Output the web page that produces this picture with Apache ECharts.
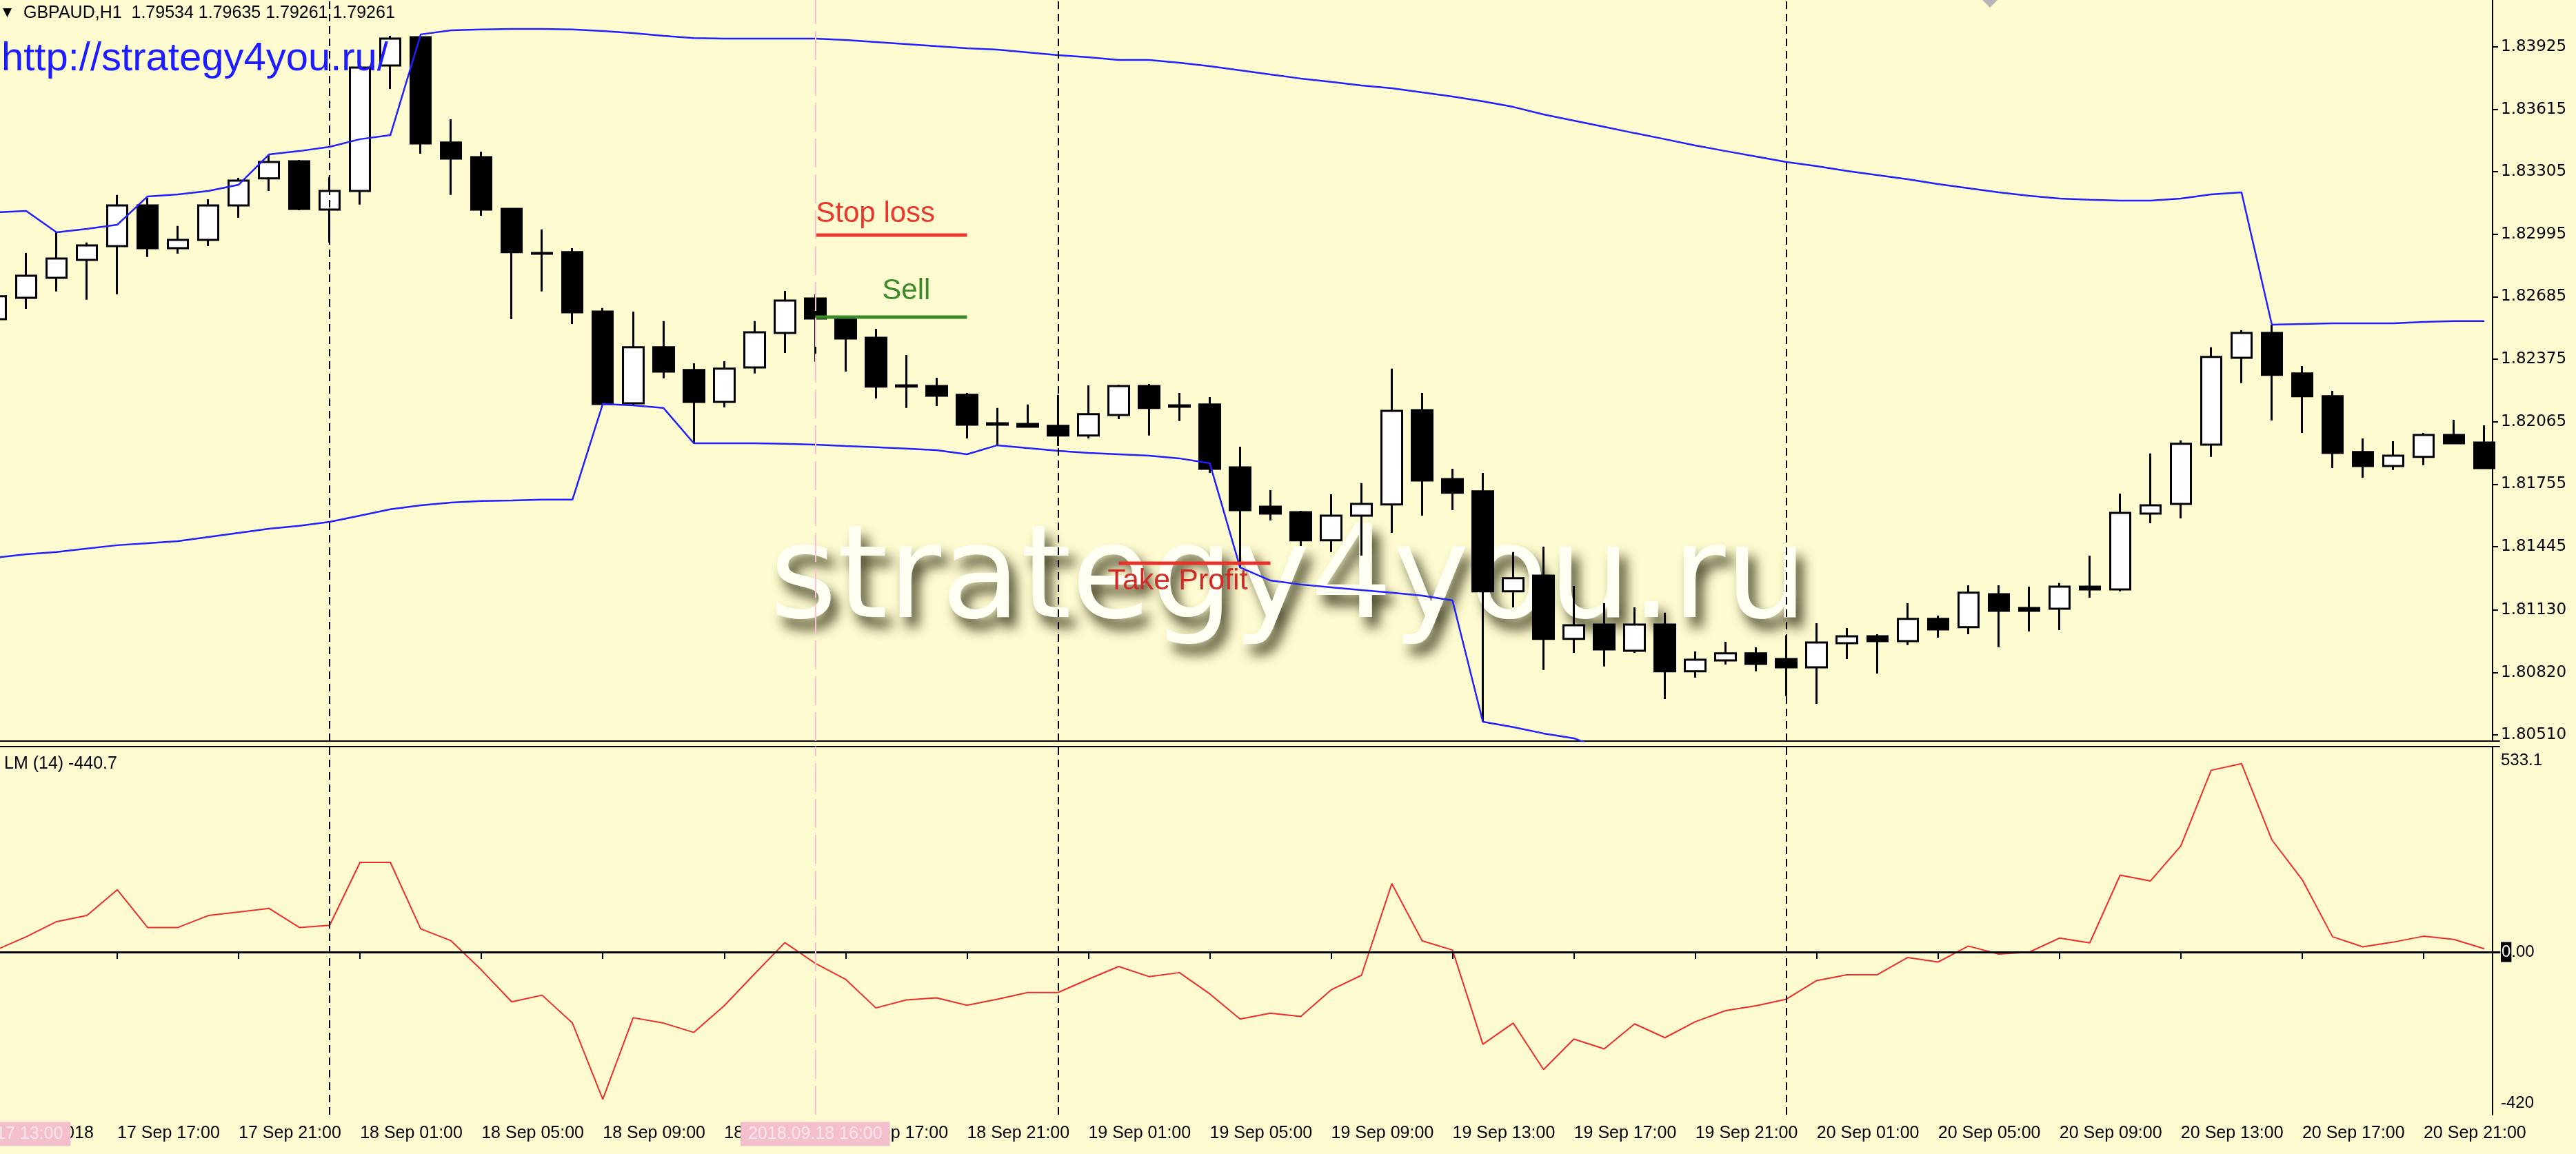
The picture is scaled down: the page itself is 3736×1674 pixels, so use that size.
<!DOCTYPE html>
<html><head><meta charset="utf-8">
<script src="https://cdn.jsdelivr.net/npm/echarts@6/dist/echarts.min.js"></script>
<style>html,body{margin:0;padding:0;background:#FFFBD0;}#c{width:3736px;height:1674px;}</style>
</head><body><div id="c"></div>
<script>
const categories = [
'17 Sep 13:00','17 Sep 14:00','17 Sep 15:00','17 Sep 16:00','17 Sep 17:00','17 Sep 18:00','17 Sep 19:00','17 Sep 20:00','17 Sep 21:00','17 Sep 22:00','17 Sep 23:00',
'18 Sep 00:00','18 Sep 01:00','18 Sep 02:00','18 Sep 03:00','18 Sep 04:00','18 Sep 05:00','18 Sep 06:00','18 Sep 07:00','18 Sep 08:00','18 Sep 09:00','18 Sep 10:00','18 Sep 11:00','18 Sep 12:00','18 Sep 13:00','18 Sep 14:00','18 Sep 15:00','18 Sep 16:00','18 Sep 17:00','18 Sep 18:00','18 Sep 19:00','18 Sep 20:00','18 Sep 21:00','18 Sep 22:00','18 Sep 23:00',
'19 Sep 00:00','19 Sep 01:00','19 Sep 02:00','19 Sep 03:00','19 Sep 04:00','19 Sep 05:00','19 Sep 06:00','19 Sep 07:00','19 Sep 08:00','19 Sep 09:00','19 Sep 10:00','19 Sep 11:00','19 Sep 12:00','19 Sep 13:00','19 Sep 14:00','19 Sep 15:00','19 Sep 16:00','19 Sep 17:00','19 Sep 18:00','19 Sep 19:00','19 Sep 20:00','19 Sep 21:00','19 Sep 22:00','19 Sep 23:00',
'20 Sep 00:00','20 Sep 01:00','20 Sep 02:00','20 Sep 03:00','20 Sep 04:00','20 Sep 05:00','20 Sep 06:00','20 Sep 07:00','20 Sep 08:00','20 Sep 09:00','20 Sep 10:00','20 Sep 11:00','20 Sep 12:00','20 Sep 13:00','20 Sep 14:00','20 Sep 15:00','20 Sep 16:00','20 Sep 17:00','20 Sep 18:00','20 Sep 19:00','20 Sep 20:00','20 Sep 21:00','20 Sep 22:00','20 Sep 23:00'];

const opens = [1.82574,1.82680,1.82779,1.82868,1.82936,1.83138,1.82926,1.82967,1.83138,1.83272,1.83357,
1.83118,1.83210,1.83833,1.83973,1.83450,1.83378,1.83121,1.82902,1.82906,1.82611,1.82156,1.82434,1.82321,1.82163,1.82334,1.82505,1.82676,1.82577,1.82481,1.82245,1.82242,1.82198,1.82057,1.82054,
1.82044,1.81996,1.82098,1.82242,1.82146,1.82150,1.81838,1.81643,1.81616,1.81476,1.81599,1.81654,1.82122,1.81780,1.81719,1.81223,1.81301,1.80987,1.81058,1.80928,1.81058,1.80826,1.80880,1.80915,
1.80887,1.80846,1.80966,1.81000,1.80976,1.81086,1.81045,1.81209,1.81140,1.81137,1.81246,1.81233,1.81609,1.81657,1.81951,1.82382,1.82505,1.82304,1.82191,1.81914,1.81845,1.81890,1.81999,1.81961];
const closes = [1.82687,1.82789,1.82875,1.82940,1.83138,1.82926,1.82967,1.83138,1.83261,1.83354,1.83121,
1.83210,1.83822,1.83966,1.83446,1.83371,1.83118,1.82906,1.82899,1.82608,1.82153,1.82434,1.82314,1.82163,1.82328,1.82509,1.82666,1.82577,1.82478,1.82239,1.82239,1.82194,1.82050,1.82050,1.82040,
1.81996,1.82102,1.82242,1.82133,1.82139,1.81831,1.81626,1.81609,1.81476,1.81599,1.81657,1.82119,1.81773,1.81712,1.81223,1.81288,1.80987,1.81055,1.80935,1.81058,1.80826,1.80884,1.80915,1.80863,
1.80846,1.80969,1.81000,1.80976,1.81086,1.81034,1.81216,1.81127,1.81127,1.81246,1.81233,1.81612,1.81650,1.81955,1.82386,1.82505,1.82297,1.82191,1.81910,1.81845,1.81896,1.81999,1.81958,1.81835];
const lows = [1.82550,1.82625,1.82711,1.82670,1.82697,1.82882,1.82899,1.82936,1.83077,1.83210,1.83114,
1.82954,1.83142,1.83716,1.83395,1.83190,1.83087,1.82574,1.82711,1.82550,1.82146,1.82146,1.82280,1.81958,1.82136,1.82304,1.82406,1.82362,1.82314,1.82180,1.82133,1.82143,1.81982,1.81951,1.82040,
1.81944,1.81982,1.82078,1.81996,1.82068,1.81811,1.81342,1.81575,1.81448,1.81418,1.81400,1.81513,1.81599,1.81626,1.80576,1.81144,1.80833,1.80918,1.80850,1.80918,1.80689,1.80795,1.80860,1.80826,
1.80703,1.80665,1.80887,1.80815,1.80956,1.80993,1.81010,1.80945,1.81024,1.81031,1.81192,1.81223,1.81561,1.81585,1.81890,1.82256,1.82071,1.82009,1.81835,1.81787,1.81825,1.81849,1.81958,1.81835];
const highs = [1.82704,1.82902,1.83005,1.82954,1.83190,1.83176,1.83036,1.83169,1.83275,1.83391,1.83364,
1.83279,1.83826,1.83980,1.83976,1.83566,1.83405,1.83125,1.83019,1.82926,1.82629,1.82611,1.82564,1.82355,1.82365,1.82564,1.82714,1.82697,1.82584,1.82526,1.82396,1.82283,1.82208,1.82133,1.82150,
1.82198,1.82245,1.82249,1.82252,1.82208,1.82187,1.81941,1.81725,1.81623,1.81705,1.81760,1.82328,1.82208,1.81831,1.81811,1.81418,1.81445,1.81250,1.81164,1.81144,1.81117,1.80925,1.80973,1.80945,
1.81004,1.81065,1.81041,1.81010,1.81164,1.81103,1.81253,1.81253,1.81246,1.81264,1.81400,1.81708,1.81907,1.81972,1.82434,1.82519,1.82546,1.82341,1.82218,1.81982,1.81968,1.82009,1.82074,1.82047];

const upperBand = [1.83104,1.83111,1.83005,1.83022,1.83042,1.83183,1.83193,1.83210,1.83241,1.83391,1.83408,
1.83429,1.83467,1.83487,1.83987,1.84007,1.84011,1.84014,1.84014,1.84011,1.84004,1.83993,1.83980,1.83969,1.83966,1.83966,1.83966,1.83966,1.83959,1.83949,1.83939,1.83928,1.83918,1.83911,1.83898,
1.83884,1.83874,1.83860,1.83860,1.83846,1.83829,1.83809,1.83788,1.83768,1.83751,1.83733,1.83720,1.83699,1.83679,1.83655,1.83627,1.83590,1.83559,1.83528,1.83497,1.83467,1.83436,1.83408,1.83381,
1.83354,1.83333,1.83309,1.83289,1.83268,1.83244,1.83224,1.83203,1.83186,1.83172,1.83166,1.83162,1.83162,1.83172,1.83193,1.83203,1.82546,1.82550,1.82553,1.82553,1.82553,1.82560,1.82564,1.82564];
const lowerBand = [1.81390,1.81407,1.81418,1.81435,1.81452,1.81462,1.81472,1.81493,1.81513,1.81534,1.81548,
1.81568,1.81599,1.81630,1.81650,1.81664,1.81671,1.81674,1.81678,1.81678,1.82153,1.82146,1.82133,1.81958,1.81958,1.81958,1.81955,1.81951,1.81944,1.81938,1.81931,1.81924,1.81903,1.81948,1.81934,
1.81920,1.81910,1.81903,1.81896,1.81883,1.81859,1.81342,1.81277,1.81257,1.81243,1.81229,1.81216,1.81202,1.81178,1.80576,1.80549,1.80518,1.80494,1.80436];

const lmValues = [5.5,42.4,84.5,101.5,173.2,68.3,68.3,101.5,111.1,121.5,68.3,
74.2,249.3,249.3,64.6,31.3,-50.0,-138.6,-120.1,-197.7,-409.7,-182.9,-197.7,-223.6,-149.7,-61.0,26.1,-31.5,-75.8,-155.6,-133.4,-127.5,-148.2,-131.2,-112.7,
-112.7,-75.8,-40.3,-68.4,-57.3,-116.4,-186.6,-170.4,-179.2,-105.4,-64.7,190.2,31.3,5.5,-256.8,-197.7,-327.0,-242.0,-269.4,-199.9,-238.3,-194.0,-163.0,-149.7,
-131.2,-79.5,-63.2,-63.2,-15.2,-27.8,16.5,-5.6,-0.5,38.7,25.4,213.8,197.6,295.1,505.6,524.1,312.1,201.2,42.4,14.3,27.6,43.9,35.0,9.2];

const priceTicks = [1.80510,1.80820,1.81130,1.81445,1.81755,1.82065,1.82375,1.82685,1.82995,1.83305,1.83615,1.83925];
const lmTicks = [-420, 0, 533.1];
const daySeparators = ['18 Sep 00:00','19 Sep 00:00','20 Sep 00:00'];
const pinkLines = ['17 Sep 13:00','18 Sep 16:00'];
const pinkLabels = ['2018.09.17 13:00','2018.09.18 16:00'];
const xLabelOverride = {'17 Sep 13:00':'17 Sep 2018'};
const stopLoss = 1.82991, sellPrice = 1.82584, takeProfit = 1.81363;
const tradeStart = '18 Sep 16:00', tradeEnd = '18 Sep 21:00';
const tpStart = '19 Sep 02:00', tpEnd = '19 Sep 07:00';

const candleData = categories.map((c,i)=>[opens[i],closes[i],lows[i],highs[i]]);
const chart = echarts.init(document.getElementById('c'), null, {renderer:'canvas'});
const SMALL = '"Liberation Sans", Arial, sans-serif';
const every4 = (idx)=> idx % 4 === 0;

const vlines = ()=>[
  ...daySeparators.map(c=>({xAxis:c, lineStyle:{color:'#000', width:2, type:[11,7]}})),
  ...pinkLines.map(c=>({xAxis:c, lineStyle:{color:'#F6C3D0', width:2, type:[42,10]}}))
];

const baseGraphic = [
  {type:'text', x:4, y:19, z:100, style:{text:'\u25BC', font:'17px "DejaVu Sans"', fill:'#000', verticalAlign:'middle'}},
  {type:'text', x:34, y:19, z:100, style:{text:'GBPAUD,H1  1.79534 1.79635 1.79261 1.79261', font:'25px '+SMALL, fill:'#000', verticalAlign:'middle'}},
  {type:'text', x:2, y:86, z:100, style:{text:'http://strategy4you.ru/', font:'58px '+SMALL, fill:'#1c1cff', verticalAlign:'middle'}},
  {type:'text', x:1116, y:846, z:1, silent:true, style:{text:'strategy4you.ru', font:'188px "DejaVu Sans"', fill:'#FFFFF3', verticalAlign:'middle',
     textShadowBlur:18, textShadowOffsetX:10, textShadowOffsetY:15, textShadowColor:'rgba(58,56,28,0.92)'}},
  {type:'text', x:6, y:1108, z:100, style:{text:'LM (14) -440.7', font:'25px '+SMALL, fill:'#000', verticalAlign:'middle'}},
  {type:'polygon', z:100, shape:{points:[[2875,0],[2897,0],[2886,11]]}, style:{fill:'#b5b5b5'}}
];

const option = {
  backgroundColor:'#FFFBD0',
  animation:false,
  textStyle:{fontFamily:SMALL},
  grid:[
    {left:-28, top:0, width:3653, height:1075, containLabel:false, outerBoundsMode:'none'},
    {left:-28, top:1083, width:3653, height:534, containLabel:false, outerBoundsMode:'none'}
  ],
  xAxis:[
    {type:'category', gridIndex:0, data:categories, boundaryGap:true,
     axisLine:{show:true, lineStyle:{color:'#000', width:2}}, axisTick:{show:false}, axisLabel:{show:false}, splitLine:{show:false}},
    {type:'category', gridIndex:1, data:categories, boundaryGap:true, position:'bottom',
     axisLine:{show:true, lineStyle:{color:'#000', width:3}},
     axisTick:{show:true, alignWithLabel:true, interval:every4, length:10, lineStyle:{color:'#000', width:2}},
     axisLabel:{show:true, interval:every4, align:'left', margin:15, fontSize:25, fontFamily:SMALL, color:'#000',
       formatter:(v)=> xLabelOverride[v] || v},
     splitLine:{show:false}},
    {type:'category', gridIndex:1, data:categories, position:'top',
     axisLine:{show:true, lineStyle:{color:'#000', width:2}}, axisTick:{show:false}, axisLabel:{show:false}}
  ],
  yAxis:[
    {type:'value', gridIndex:0, position:'right', offset:-10, min:1.80480, max:1.841576, scale:true,
     axisLine:{show:true, lineStyle:{color:'#000', width:2}},
     axisTick:{show:true, customValues:priceTicks, length:8, lineStyle:{color:'#000', width:2}},
     axisLabel:{show:true, customValues:priceTicks, margin:12, fontSize:23, fontFamily:'"DejaVu Sans"', color:'#000',
       formatter:(v)=>Number(v).toFixed(5)},
     splitLine:{show:false}},
    {type:'value', gridIndex:1, position:'right', offset:-10, min:-452.6, max:571.5,
     axisLine:{show:true, lineStyle:{color:'#000', width:2}},
     axisTick:{show:false},
     axisLabel:{show:true, customValues:lmTicks, margin:12, fontSize:24, fontFamily:SMALL, color:'#000',
       formatter:(v)=> v===0 ? '{z|0}.00' : String(v),
       rich:{z:{backgroundColor:'#000', color:'#fff', fontSize:24, padding:[3,1,2,1]}}},
     splitLine:{show:false}}
  ],
  series:[
    {type:'candlestick', xAxisIndex:0, yAxisIndex:0, data:candleData, barWidth:30,
     itemStyle:{color:'#fff', color0:'#000', borderColor:'#000', borderColor0:'#000', borderColorDoji:'#000', borderWidth:3},
     markLine:{silent:true, symbol:['none','none'], label:{show:false}, data:vlines()}},
    {type:'line', xAxisIndex:0, yAxisIndex:0, data:upperBand, symbol:'none', lineStyle:{color:'#1f1fff', width:2.5}},
    {type:'line', xAxisIndex:0, yAxisIndex:0, data:lowerBand, symbol:'none', lineStyle:{color:'#1f1fff', width:2.5}},
    {type:'line', xAxisIndex:0, yAxisIndex:0, data:[[tradeStart,stopLoss],[tradeEnd,stopLoss]], symbol:'none', lineStyle:{color:'#E8382E', width:5}},
    {type:'line', xAxisIndex:0, yAxisIndex:0, data:[[tradeStart,sellPrice],[tradeEnd,sellPrice]], symbol:'none', lineStyle:{color:'#3A8A2C', width:5}},
    {type:'line', xAxisIndex:0, yAxisIndex:0, data:[[tpStart,takeProfit],[tpEnd,takeProfit]], symbol:'none', lineStyle:{color:'#E8302A', width:5}},
    {type:'line', xAxisIndex:1, yAxisIndex:1, data:lmValues, symbol:'none', lineStyle:{color:'#EC2D2D', width:2},
     markLine:{silent:true, symbol:['none','none'], label:{show:false},
       data:[{yAxis:0, lineStyle:{color:'#000', width:3, type:'solid'}}, ...vlines()]}}
  ],
  graphic: baseGraphic
};
chart.setOption(option);

const sl = chart.convertToPixel({xAxisIndex:0, yAxisIndex:0}, [tradeStart, stopLoss]);
const se = chart.convertToPixel({xAxisIndex:0, yAxisIndex:0}, [tradeStart, sellPrice]);
const tp = chart.convertToPixel({xAxisIndex:0, yAxisIndex:0}, [tpStart, takeProfit]);
const extra = [
  {type:'text', x:sl[0]+1, y:sl[1]-31, z:100, style:{text:'Stop loss', font:'42px '+SMALL, fill:'#E8382E', verticalAlign:'middle'}},
  {type:'text', x:se[0]+97, y:se[1]-38, z:100, style:{text:'Sell', font:'42px '+SMALL, fill:'#3A8A2C', verticalAlign:'middle'}},
  {type:'text', x:tp[0]-16, y:tp[1]+26, z:100, style:{text:'Take Profit', font:'43px '+SMALL, fill:'#D22A24', verticalAlign:'middle'}}
];
pinkLines.forEach((c,k)=>{
  const p = chart.convertToPixel({xAxisIndex:1, yAxisIndex:1}, [c, 0]);
  extra.push({type:'text', x:p[0], y:1645, z:110, style:{text:pinkLabels[k], font:'25px '+SMALL, fill:'#FCE6EA',
    align:'center', verticalAlign:'middle', backgroundColor:'#F4BFCC', padding:[5,11,5,11]}});
});
chart.setOption({graphic: baseGraphic.concat(extra)});
</script></body></html>
